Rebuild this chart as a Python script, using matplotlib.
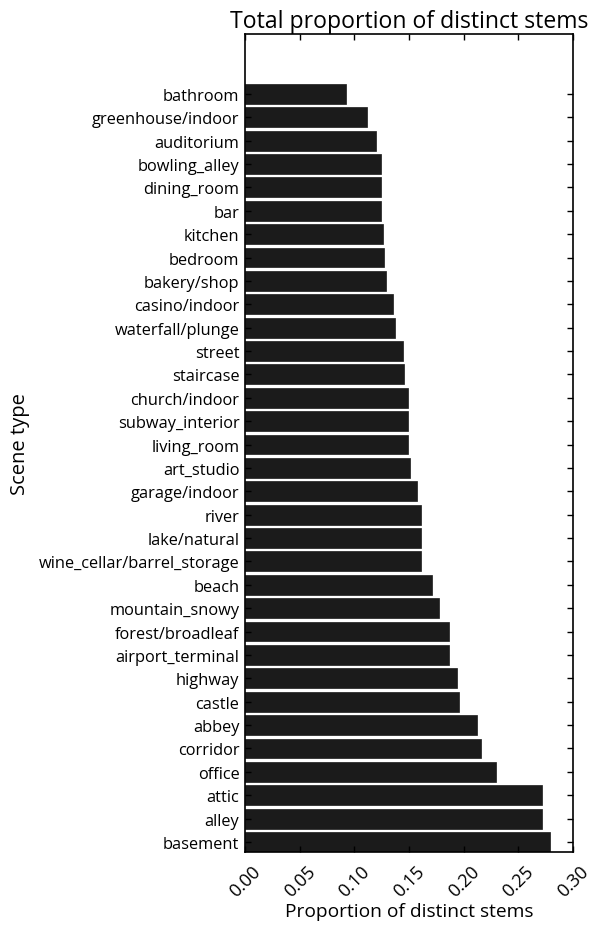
import matplotlib
matplotlib.use("Agg")
import matplotlib.pyplot as plt
import numpy as np

scenes = ["bathroom", "greenhouse/indoor", "auditorium", "bowling_alley", "dining_room",
          "bar", "kitchen", "bedroom", "bakery/shop", "casino/indoor", "waterfall/plunge",
          "street", "staircase", "church/indoor", "subway_interior", "living_room",
          "art_studio", "garage/indoor", "river", "lake/natural",
          "wine_cellar/barrel_storage", "beach", "mountain_snowy", "forest/broadleaf",
          "airport_terminal", "highway", "castle", "abbey", "corridor", "office",
          "attic", "alley", "basement"]
proportions = [0.092, 0.112, 0.120, 0.124, 0.124, 0.124, 0.126, 0.127, 0.129, 0.135,
               0.137, 0.1445, 0.145, 0.149, 0.149, 0.149, 0.151, 0.157, 0.161, 0.161,
               0.161, 0.171, 0.177, 0.187, 0.187, 0.194, 0.196, 0.212, 0.216, 0.230,
               0.272, 0.272, 0.279]
xticks = [0.00, 0.05, 0.10, 0.15, 0.20, 0.25, 0.30]

plt.rcParams['font.family'] = ['Open Sans', 'DejaVu Sans']

fig = plt.figure(figsize=(5.91, 9.29), dpi=100)
ax = fig.add_axes([0.4146, 0.0818, 0.555, 0.8805])

# basement at the bottom, bathroom at the top
ypos = np.arange(len(scenes))[::-1]
ax.barh(ypos, proportions, height=0.85, color='#1b1b1b', edgecolor='#1b1b1b', linewidth=0.5)

ax.set_yticks(ypos)
ax.set_yticklabels(scenes, fontsize=11.8)
ax.set_ylim(-0.43, len(scenes) + 1.56)
ax.set_xlim(0, 0.30)
ax.set_xticks(xticks)
ax.set_xticklabels(["%.2f" % t for t in xticks], rotation=45, fontsize=13)

ax.tick_params(direction='in', top=True, right=True, length=4, width=1)
ax.tick_params(axis='y', pad=4)
ax.tick_params(axis='x', pad=7)
for s in ax.spines.values():
    s.set_linewidth(1.2)

ax.set_title("Total proportion of distinct stems", fontsize=16.6, pad=5)
ax.set_xlabel("Proportion of distinct stems", fontsize=13.8, labelpad=2)
ax.set_ylabel("Scene type", fontsize=14.5)
ax.yaxis.set_label_coords(-0.655, 0.5)

fig.savefig("out.png", dpi=100)
